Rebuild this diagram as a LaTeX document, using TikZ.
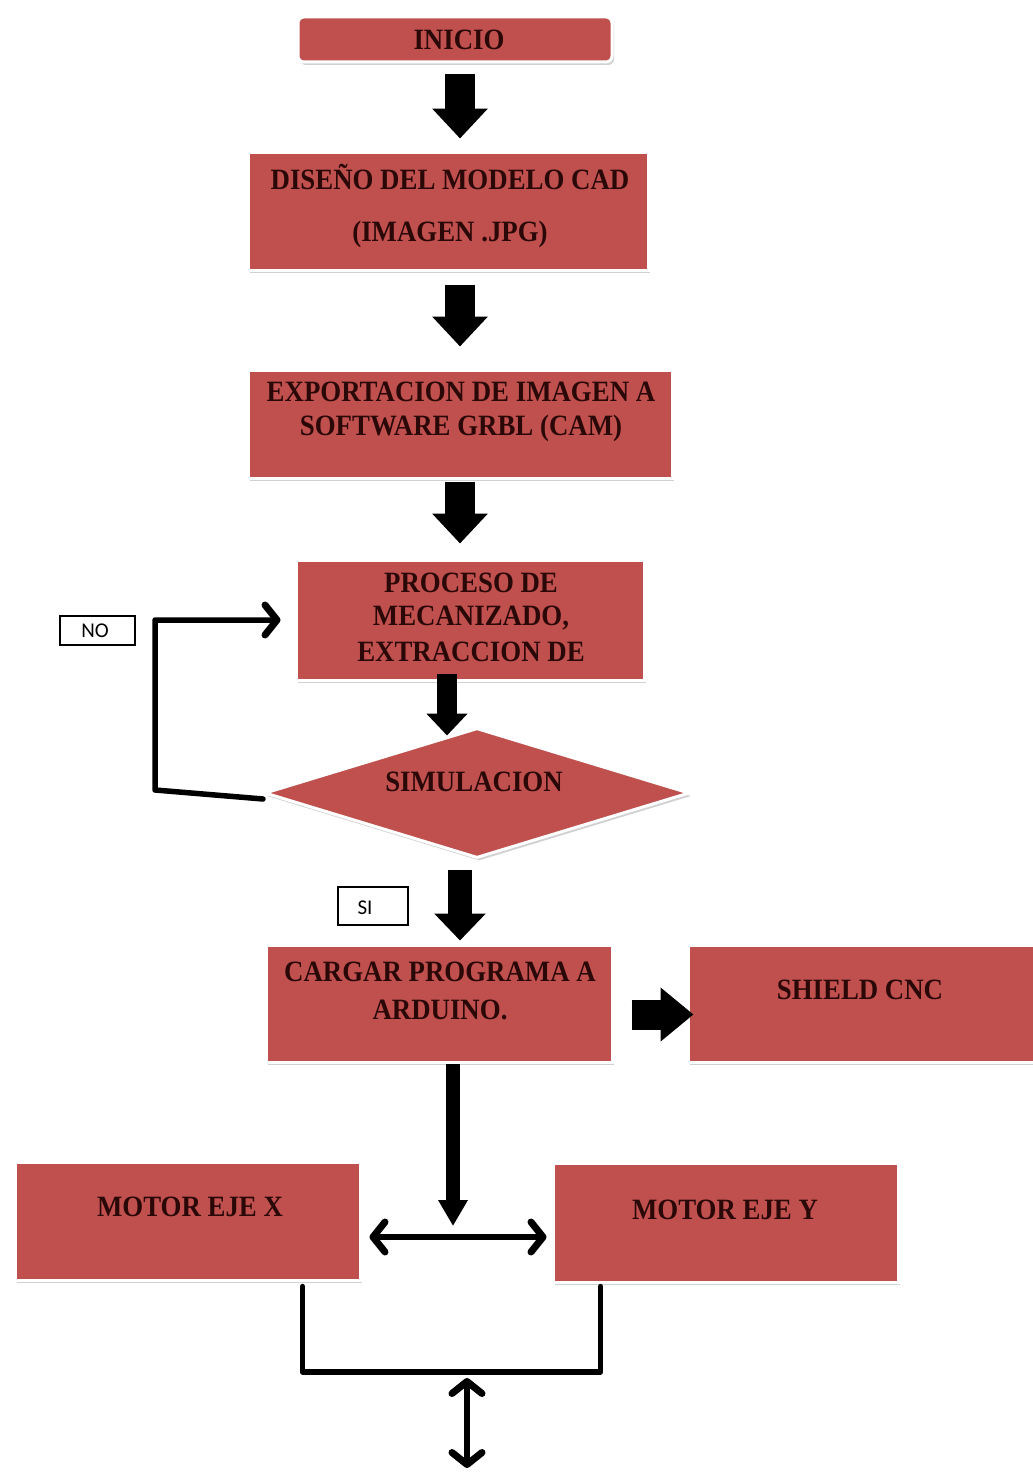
\documentclass[tikz,border=0pt]{standalone}
\usepackage{fontspec}
\setmainfont{Liberation Serif}[FakeStretch=0.91]
\newfontfamily\calib{Carlito}
\usetikzlibrary{shapes.geometric,arrows.meta,shadows,calc}
\definecolor{boxred}{HTML}{C0504D}
\definecolor{txt}{HTML}{2A0808}
\begin{document}
\begin{tikzpicture}[x=1pt,y=-1pt,
  box/.style={draw=white, line width=3pt, fill=boxred, inner sep=0pt,
    drop shadow={shadow xshift=2pt,shadow yshift=-3pt,fill=black!30,opacity=0.6}},
  lbl/.style={font=\bfseries\fontsize{29.5}{30}\selectfont, text=txt, inner sep=0pt},
  tag/.style={draw=black, line width=1.4pt, fill=white, inner sep=0pt},
  tagtxt/.style={font=\calib\fontsize{21}{22}\selectfont, inner sep=0pt},
  fatarrow/.style={draw=black, line width=#1},
  thinline/.style={draw=black, line width=5.5pt, line cap=round, line join=round},
  barb/.tip={Straight Barb[length=12pt,width=30pt,line width=7pt,round]}
]
\useasboundingbox (0,0) rectangle (1033,1472);

% boxes
\node[box, rounded corners=6pt, minimum width=314pt, minimum height=45pt] (inicio) at (455,39.5) {};
\node[box, minimum width=400pt, minimum height=118pt] (diseno) at (448,211) {};
\node[box, minimum width=424pt, minimum height=108pt] (export) at (460,424) {};
\node[box, minimum width=348pt, minimum height=120pt] (proceso) at (470,620) {};
\node[box, diamond, minimum width=425pt, minimum height=130pt] (sim) at (477,793) {};
\node[box, minimum width=346pt, minimum height=117pt] (cargar) at (439,1003.5) {};
\node[box, minimum width=357pt, minimum height=117pt] (shield) at (866.5,1003.5) {};
\node[box, minimum width=345pt, minimum height=118pt] (motorx) at (187.5,1221) {};
\node[box, minimum width=345pt, minimum height=119pt] (motory) at (725.5,1222.5) {};

% texts
\node[lbl] (t0) at (459,40) {INICIO};
\node[lbl] (t1a) at (450,177) {DISEÑO DEL MODELO CAD};
\node[lbl] (t1b) at (450,234) {(IMAGEN .JPG)};
\node[lbl] (t2a) at (461,392) {EXPORTACION DE IMAGEN A};
\node[lbl] (t2b) at (461,428) {SOFTWARE GRBL (CAM)};
\node[lbl] (t3a) at (471,583) {PROCESO DE};
\node[lbl] (t3b) at (471,618) {MECANIZADO,};
\node[lbl] (t3c) at (471,652) {EXTRACCION DE};
\node[lbl] (t4) at (474,782) {SIMULACION};
\node[lbl] (t5a) at (440,972) {CARGAR PROGRAMA A};
\node[lbl] (t5b) at (440,1010) {ARDUINO.};
\node[lbl] (t6) at (860,990) {SHIELD CNC};
\node[lbl] (t7) at (190,1207) {MOTOR EJE X};
\node[lbl] (t8) at (725,1210) {MOTOR EJE Y};

% tags
\node[tag, minimum width=75pt, minimum height=29pt] (nobox) at (97.5,630.5) {};
\node[tagtxt] (no) at (95,631) {NO};
\node[tag, minimum width=70pt, minimum height=38pt] (sibox) at (373,906) {};
\node[tagtxt] (si) at (365,908) {SI};

% fat block arrows
\draw[fatarrow=30pt, -{Triangle[width=54pt,length=30pt]}, shorten <=11pt, shorten >=12pt]
  ([xshift=5pt]inicio.south) -- ([xshift=5pt]inicio.south |- diseno.north);
\draw[fatarrow=30pt, -{Triangle[width=54pt,length=30pt]}, shorten <=13pt, shorten >=22pt]
  ([xshift=12pt]diseno.south) -- ([xshift=12pt]diseno.south |- export.north);
\draw[fatarrow=30pt, -{Triangle[width=54pt,length=30pt]}, shorten <=2pt, shorten >=15pt]
  (export.south) -- (export.south |- proceso.north);
\draw[fatarrow=20pt, -{Triangle[width=40pt,length=22pt]}, shorten <=-8pt, shorten >=-9pt]
  ([xshift=-23pt]proceso.south) -- ([xshift=-23pt]proceso.south |- sim.north);
\draw[fatarrow=24pt, -{Triangle[width=50pt,length=27pt]}, shorten <=10pt, shorten >=3pt]
  ([xshift=-17pt]sim.south) -- ([xshift=-17pt]sim.south |- cargar.north);
\draw[fatarrow=30pt, -{Triangle[width=52pt,length=33pt]}, shorten <=18pt, shorten >=-7pt]
  ([yshift=-11pt]cargar.east) -- ([yshift=-11pt]cargar.east -| shield.west);

% split to motors
\coordinate (jn) at (453,1237);
\draw[fatarrow=14pt, -{Triangle[width=28pt,length=26pt]}, shorten >=11pt]
  ([xshift=14pt]cargar.south) -- (jn);
\draw[thinline, {barb}-{barb}, shorten <=8pt, shorten >=5pt]
  ([yshift=-16pt]motorx.east) -- ([yshift=-16pt]motorx.east -| motory.west);

% NO loop
\coordinate (nl1) at (155,790);
\coordinate (nl2) at (155,620);
\draw[thinline, -{barb}, shorten >=14pt]
  ([yshift=-6pt]sim.west) -- (nl1) -- (nl2) -- (nl2 -| proceso.west);

% bracket from motors
\coordinate (bj) at (467,1372);
\coordinate (bot) at (467,1472);
\draw[thinline]
  ([xshift=115pt,yshift=-5pt]motorx.south) |- (bj) -| ([xshift=-125pt,yshift=-3pt]motory.south);
\draw[thinline, {barb}-{barb}, shorten <=6pt, shorten >=4pt] (bj) -- (bot);
\end{tikzpicture}
\end{document}
